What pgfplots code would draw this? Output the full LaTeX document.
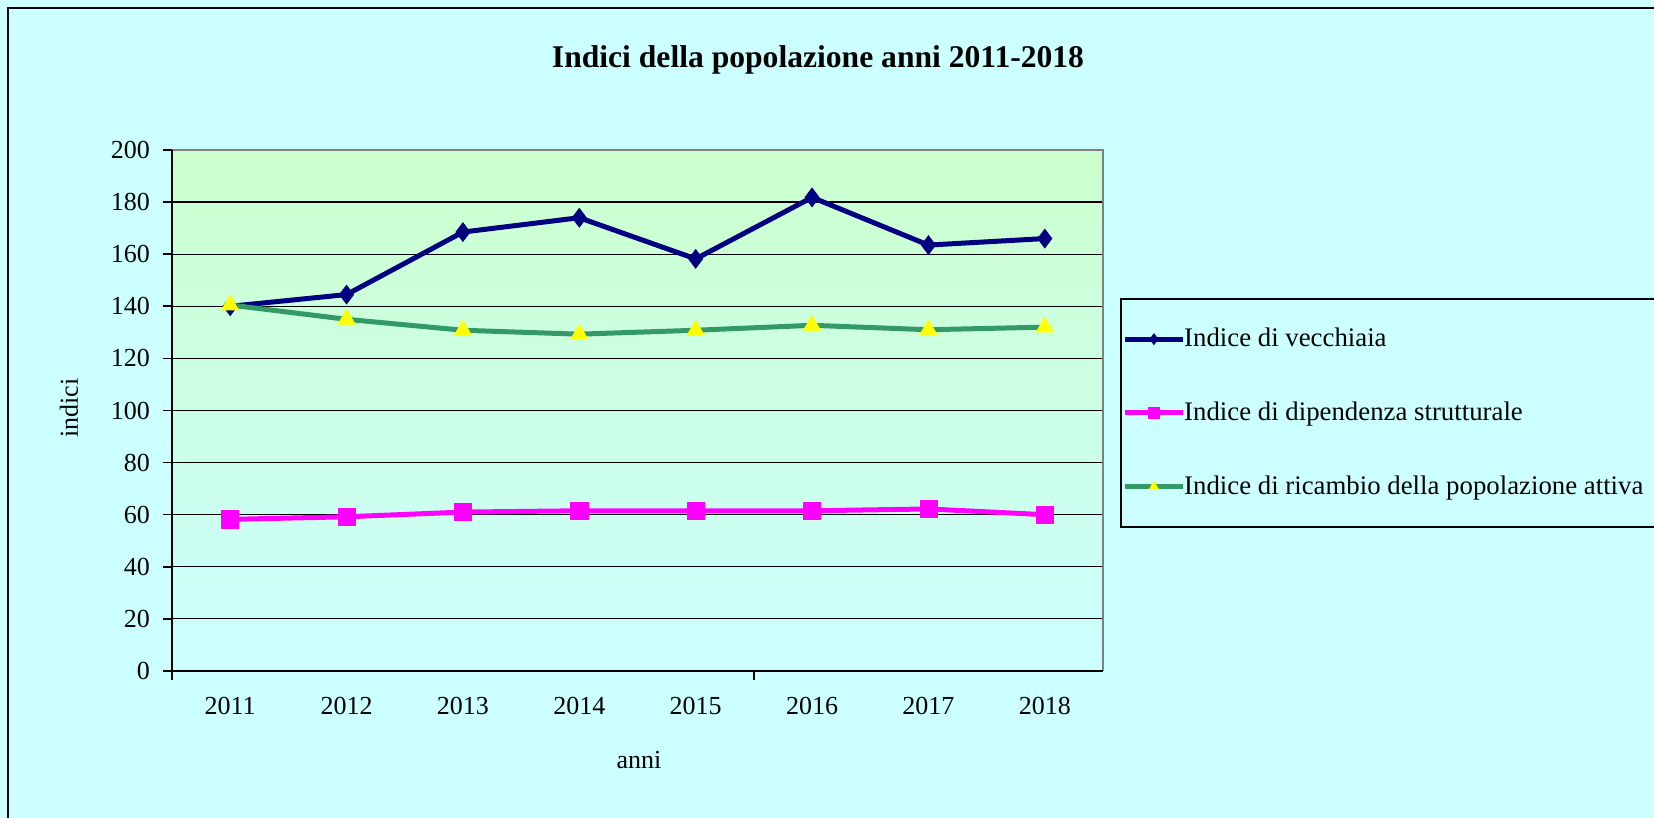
\documentclass[border=0pt]{standalone}
\usepackage{pgfplots}
\pgfplotsset{compat=1.18}
\usepackage{fontspec}
\setmainfont{Liberation Serif}
\definecolor{bgcyan}{HTML}{CCFFFF}
\definecolor{bggreen}{HTML}{CCFFCC}
\definecolor{navy}{HTML}{000080}
\definecolor{seagreen}{HTML}{339966}
\definecolor{magentaX}{HTML}{FF00FF}
\definecolor{yellowX}{HTML}{FFFF00}
\begin{document}
\begin{tikzpicture}
\fill[bgcyan] (0,0) rectangle (827pt,409pt);
\path[use as bounding box] (0,0) rectangle (827pt,409pt);
\draw[black, line width=1pt] (3.8pt,-2pt) -- (3.8pt,405pt) -- (830pt,405pt);
\node[font=\fontsize{15.8}{18}\selectfont\bfseries] at (409pt,379pt) {Indici della popolazione anni 2011-2018};
\begin{axis}[
  at={(86pt,73.5pt)}, anchor=south west,
  scale only axis, width=465.5pt, height=260.5pt,
  xmin=-0.5, xmax=7.5, ymin=0, ymax=200,
  xtick={0,1,2,3,4,5,6,7},
  xticklabels={2011,2012,2013,2014,2015,2016,2017,2018},
  ytick={0,20,40,60,80,100,120,140,160,180,200},
  xtick style={draw=none},
  ytick style={black, line width=0.8pt},
  tick align=outside, tick pos=left,
  major tick length=4.5pt,
  ymajorgrids,
  grid style={black, line width=0.6pt},
  axis line style={draw=none},
  axis background/.style={top color=bggreen, bottom color=bgcyan},
  /pgf/number format/assume math mode=true,
  ticklabel style={font=\fontsize{13}{15}\selectfont},
  xticklabel style={yshift=-5pt},
  yticklabel style={xshift=-3pt},
  xlabel={anni}, ylabel={indici},
  every axis x label/.style={at={(rel axis cs:0.5016,-0.171)}, anchor=center, font=\fontsize{13}{15}\selectfont},
  every axis y label/.style={at={(rel axis cs:-0.1106,0.505)}, anchor=center, rotate=90, font=\fontsize{13}{15}\selectfont},
  clip=false,
  legend style={at={(1.0183,0.716)}, anchor=north west, draw=black, line width=0.8pt, fill=none,
    font=\fontsize{13.4}{16}\selectfont, inner xsep=0.8pt, inner ysep=12.8pt, row sep=22pt,
    cells={anchor=west}},
  legend image code/.code={\draw[mark repeat=2,mark phase=2,#1,mark size=2.6pt] plot coordinates {(0pt,0pt) (14.5pt,0pt) (29pt,0pt)};},
]
\addplot[navy, line width=2.5pt, mark=diamond*, mark size=4.6pt, mark options={solid, fill=navy, draw=navy, line width=0.5pt}]
  coordinates {(0,140) (1,144.5) (2,168.5) (3,174) (4,158.2) (5,181.8) (6,163.5) (7,166)};
\addlegendentry{\hspace*{-2.6pt}Indice di vecchiaia}
\addplot[magentaX, line width=2.5pt, mark=square*, mark size=4.3pt, mark options={solid, fill=magentaX, draw=magentaX, line width=0.3pt}]
  coordinates {(0,58.2) (1,59.2) (2,61) (3,61.5) (4,61.5) (5,61.5) (6,62.2) (7,60)};
\addlegendentry{\hspace*{-2.6pt}Indice di dipendenza strutturale}
\addplot[seagreen, line width=2.5pt, mark=triangle*, mark size=5pt, mark options={solid, fill=yellowX, draw=yellowX, line width=0.3pt}]
  coordinates {(0,140.5) (1,135) (2,130.8) (3,129.3) (4,130.8) (5,132.7) (6,131) (7,132)};
\addlegendentry{\hspace*{-2.6pt}Indice di ricambio della popolazione attiva\hspace*{10pt}}
\draw[black!50, line width=1.4pt] (rel axis cs:0,1) -- (rel axis cs:1,1) -- (rel axis cs:1,0);
\draw[black, line width=1pt] (rel axis cs:0,1) -- (rel axis cs:0,0) -- (rel axis cs:1,0);
\draw[black, line width=0.8pt] (axis cs:-0.5,0) -- ([yshift=-4.5pt]axis cs:-0.5,0);
\draw[black, line width=0.8pt] (axis cs:4.5,0) -- ([yshift=-4.5pt]axis cs:4.5,0);
\end{axis}
\end{tikzpicture}
\end{document}
